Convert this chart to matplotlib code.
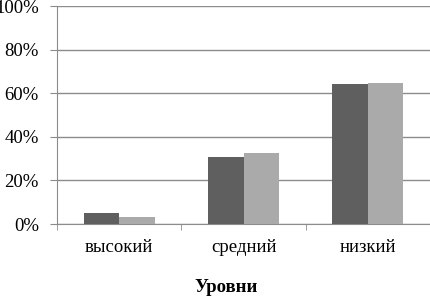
import matplotlib.pyplot as plt
import numpy as np

categories = ["высокий", "средний", "низкий"]
series_a = [5.0, 30.7, 64.2]
series_b = [3.0, 32.5, 64.5]
y_ticks = [0, 20, 40, 60, 80, 100]

plt.rcParams["font.family"] = ["Liberation Serif", "DejaVu Serif"]

fig = plt.figure(figsize=(4.3, 2.96), dpi=100)
ax = fig.add_axes([0.1326, 0.2432, 0.8674, 0.7365])

x = np.arange(len(categories))
w = 0.285
ax.bar(x - w / 2, series_a, w, color="#5f5f5f", zorder=3)
ax.bar(x + w / 2, series_b, w, color="#aaaaaa", zorder=3)

ax.set_xlim(-0.5, 2.5)
ax.set_ylim(0, 100)
ax.set_yticks(y_ticks)
ax.set_yticklabels([f"{v}%" for v in y_ticks], fontsize=13.5)
ax.yaxis.grid(True, color="#8c8c8c", linewidth=1, zorder=0)
ax.set_axisbelow(True)

ax.set_xticks(x)
ax.set_xticklabels(categories, fontsize=13.5)
ax.set_xticks([-0.5, 0.5, 1.5, 2.5], minor=True)
ax.tick_params(axis="x", which="major", length=0, pad=11)
ax.tick_params(axis="x", which="minor", length=4, color="#8c8c8c", direction="out")
ax.tick_params(axis="y", length=5, color="#8c8c8c", pad=8)

for s in ["top", "right"]:
    ax.spines[s].set_visible(False)
ax.spines["left"].set_color("#8c8c8c")
ax.spines["bottom"].set_color("#8c8c8c")

ax.set_xlabel("Уровни", fontsize=13.5, fontweight="bold")
ax.xaxis.set_label_coords((226 - 57) / 373, -0.25)

plt.savefig("out.png")
